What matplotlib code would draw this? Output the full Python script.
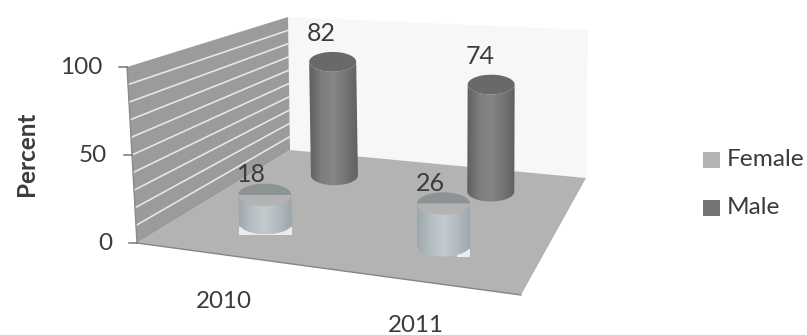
import numpy as np
import matplotlib
matplotlib.use("Agg")
import matplotlib.pyplot as plt
from matplotlib.colors import LinearSegmentedColormap
from matplotlib.patches import Polygon, Rectangle

plt.rcParams['font.family'] = ['Lato', 'DejaVu Sans']

years = ["2010", "2011"]
female = [18, 26]
male = [82, 74]
y_ticks = [0, 50, 100]
grid_values = [10, 20, 30, 40, 50, 60, 70, 80, 90]
text_color = "#3c3c3c"

# floor corners and wall scale, as (front-left, front-right, back-left, back-right)
FLOOR_X = [137, 521, 290, 586]
FLOOR_Y = [243, 295, 150, 178]
SCALE = [1.76, 1.80, 1.33, 1.48]
LEAN = [-0.10, 0.02, -0.02, 0.02]
COLUMN_SCALE = 0.96


def blend(c, u, v):
    return (c[0] * (1 - u) * (1 - v) + c[1] * u * (1 - v)
            + c[2] * (1 - u) * v + c[3] * u * v)


def project(u, v, value=0.0):
    # u runs along the front edge, v runs into the depth
    x = blend(FLOOR_X, u, v) + value * blend(LEAN, u, v)
    y = blend(FLOOR_Y, u, v) - value * blend(SCALE, u, v)
    return x, y


def cylinder(ax, u, v, value, rx, colors, cap_color, half_cap=False, skirt=None):
    bx, by = project(u, v)
    tx, ty = project(u, v, value * COLUMN_SCALE)
    ry = rx * 0.42
    t = np.linspace(0, np.pi, 40)

    # pale corners left round the foot of the column
    if skirt is not None:
        x0 = bx - rx if skirt == "both" else bx + rx * 0.5
        ax.add_patch(Rectangle((x0, by + ry * 0.3), bx + rx - x0, ry * 0.75,
                               fc="#e9eded", ec="none", zorder=3))

    # body outline: along the base, then back over the top
    px = np.r_[bx + rx * np.cos(t[::-1]), tx + rx * np.cos(t)]
    py = np.r_[by + ry * np.sin(t[::-1]), ty + ry * np.sin(t)]
    body = Polygon(np.c_[px, py], closed=True, fc="none", ec="none", zorder=3)
    ax.add_patch(body)

    cmap = LinearSegmentedColormap.from_list("body", colors)
    grad = np.linspace(0, 1, 128).reshape(1, -1)
    im = ax.imshow(grad, cmap=cmap, aspect="auto", zorder=4,
                   extent=[min(bx, tx) - rx - 1, max(bx, tx) + rx + 1, by + ry + 1, ty - ry - 1])
    im.set_clip_path(body)

    # cap on the top of the column
    if half_cap:
        a = np.linspace(np.pi, 2 * np.pi, 40)
    else:
        a = np.linspace(0, 2 * np.pi, 80)
    cx = tx + rx * np.cos(a)
    cy = ty + ry * np.sin(a)
    ax.add_patch(Polygon(np.c_[cx, cy], closed=True, fc=cap_color, ec="none", zorder=5))
    return tx, ty


fig = plt.figure(figsize=(8.07, 3.35), dpi=100)
ax = fig.add_axes([0, 0, 1, 1])

# back wall
ax.add_patch(Polygon([project(0, 1), project(1, 1), project(1, 1, 100), project(0, 1, 100)],
                     closed=True, fc="#f6f8f8", ec="none", zorder=1))

# floor
ax.add_patch(Polygon([project(0, 0), project(1, 0), project(1, 1), project(0, 1)],
                     closed=True, fc="#b3b3b3", ec="none", zorder=2))
ax.plot(*zip(project(0, 0), project(1, 0)), color="#858585", lw=1.0, zorder=2)

# left wall with its gridlines
ax.add_patch(Polygon([project(0, 0), project(0, 1), project(0, 1, 100), project(0, 0, 100)],
                     closed=True, fc="#9b9b9b", ec="none", zorder=2))
for g in grid_values:
    ax.plot(*zip(project(0, 0, g), project(0, 1, g)), color="#e6e6e6", lw=1.2, zorder=2)
ax.plot(*zip(project(0, 0), project(0, 0, 100)), color="#8a8a8a", lw=1.0, zorder=2)

# value axis
for t in y_ticks:
    x, y = project(0, 0, t)
    ax.plot([x - 8, x], [y, y], color="#777777", lw=1.1, zorder=2)
    ax.text(x - 25, y + 1, str(t), ha="right", va="center", fontsize=17.5, color=text_color)
ax.text(27, 154, "Percent", rotation=90, ha="center", va="center", fontsize=17.5,
        fontweight="bold", color=text_color)

# columns, far row first
MALE_BODY = ["#5c5c5c", "#7c7c7c", "#868686", "#747474", "#5e5e5e"]
FEMALE_BODY = ["#9ca5a9", "#b4bdc1", "#c3cbce", "#b1babe", "#9aa3a7"]
rows = [(male, 0.81, 0.235, 23.5, MALE_BODY, "#696969", False, [None, None], (-11, -28)),
        (female, 0.32, 0.224, 26.5, FEMALE_BODY, "#8d9294", True, ["both", "right"], (-13, -20))]
for values, v, u0, rx, colors, cap, half, skirts, off in rows:
    for i, val in enumerate(values):
        u = u0 + 0.5 * i
        tx, ty = cylinder(ax, u, v, val, rx, colors, cap, half_cap=half, skirt=skirts[i])
        ax.text(tx + off[0], ty + off[1], str(val), ha="center", va="center",
                fontsize=18, color=text_color, zorder=6)

# category labels
for name, (x, y) in zip(years, [(224, 301), (416, 325)]):
    ax.text(x, y, name, ha="center", va="center", fontsize=17.4, color=text_color)

# legend
for y, name, col in [(160, "Female", "#b3b3b3"), (208, "Male", "#757575")]:
    ax.add_patch(Rectangle((703, y - 8), 17, 16, fc=col, ec="none"))
    ax.text(727, y, name, ha="left", va="center", fontsize=17.6, color=text_color)

ax.set_xlim(0, 807)
ax.set_ylim(335, 0)
ax.axis("off")
fig.savefig("out.png", dpi=100)
